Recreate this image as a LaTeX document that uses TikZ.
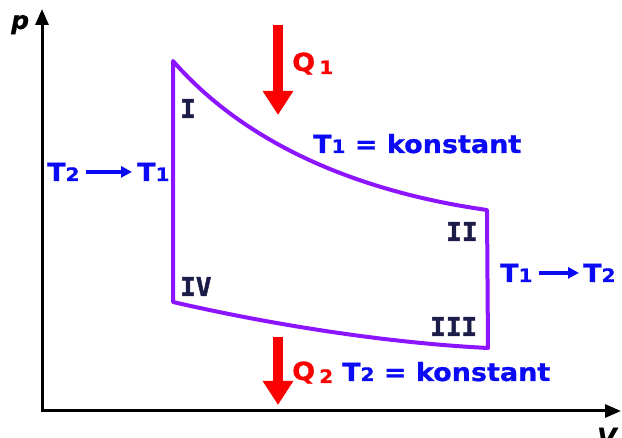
\documentclass[tikz,border=0pt]{standalone}
\usepackage{fontspec}
\setmainfont{DejaVu Sans}
\newfontfamily\lblfont[FakeStretch=1.08,FakeBold=0.8]{DejaVu Sans Bold}
\newfontfamily\romfont[FakeBold=1.6]{DejaVu Sans Mono Bold}
\newfontfamily\axfont[FakeBold=0.6]{DejaVu Sans Bold Oblique}
\usetikzlibrary{arrows.meta}
\definecolor{cyc}{RGB}{140,20,255}
\definecolor{tblue}{RGB}{10,10,245}
\definecolor{qred}{RGB}{250,0,0}
\definecolor{navy}{RGB}{28,28,72}
\newcommand\lbl{\lblfont\fontsize{25}{26}\selectfont}
\newcommand\sbs[1]{{\fontsize{18.5}{18}\selectfont #1}}
\begin{document}
\begin{tikzpicture}[x=1pt,y=-1pt,
  txt/.style={inner sep=0pt, anchor=base west, font=\lbl},
  bluetxt/.style={txt, text=tblue},
  redtxt/.style={txt, text=qred},
  romtxt/.style={inner sep=0pt, anchor=base west, text=navy, font=\romfont\fontsize{26}{26}\selectfont},
  axtxt/.style={inner sep=0pt, anchor=base west, font=\axfont\fontsize{25}{26}\selectfont},
  axis/.style={line width=3pt, {Triangle[width=13pt,length=16pt]}-{Triangle[width=13pt,length=16pt]}},
  cycle line/.style={line width=4pt, draw=cyc, line join=round},
  qarrow/.style={line width=10pt, draw=qred, -{Triangle[width=29pt,length=24pt]}},
  tarrow/.style={line width=4pt, draw=tblue, -{Triangle[width=11pt,length=11pt]}}]
\useasboundingbox (0,0) rectangle (622,438);
% axes
\coordinate (ytip) at (42,9);
\coordinate (orig) at (42,411);
\coordinate (xtip) at (621,411);
\draw[axis] (ytip) -- (orig) -- (xtip);
\node[axtxt] (plab) at (11,29) {p};
\node[axtxt] (vlab) at (597,446) {V};
% cycle corners
\coordinate (c1) at (173,61);
\coordinate (c2) at (487,210);
\coordinate (c3) at (488,348);
\coordinate (c4) at (173,302);
\draw[cycle line] (c1) .. controls (250,149) and (367,193) .. (c2)
  -- (c3) .. controls (388,343) and (273,325) .. (c4) -- cycle;
% roman numerals
\node[romtxt] (rI) at (180,118) {I};
\node[romtxt] (rII) at (446,241) {II};
\node[romtxt] (rIII) at (430,336) {III};
\node[romtxt] (rIV) at (180,296) {IV};
% heat arrows
\coordinate (q1s) at (278,25);
\coordinate (q1e) at (278,115);
\draw[qarrow] (q1s) -- (q1e);
\coordinate (q2s) at (278,337);
\coordinate (q2e) at (278,405);
\draw[qarrow] (q2s) -- (q2e);
\node[redtxt] (q1) at (292,71) {Q\,\raisebox{-3pt}{\sbs{1}}};
\node[redtxt] (q2) at (292,380) {Q\,\raisebox{-3pt}{\sbs{2}}};
% isotherm labels
\node[bluetxt] (iso1) at (313,153) {T\sbs{1} = konstant};
\node[bluetxt] (iso2) at (342,381) {T\sbs{2} = konstant};
% temperature changes
\node[bluetxt] (lt2) at (47,181) {T\sbs{2}};
\node[bluetxt] (lt1) at (137,181) {T\sbs{1}};
\draw[tarrow] ([xshift=6pt]lt2.east) -- ([xshift=-5pt]lt1.west);
\node[bluetxt] (rt1) at (500,282) {T\sbs{1}};
\node[bluetxt] (rt2) at (583,282) {T\sbs{2}};
\draw[tarrow] ([xshift=6pt]rt1.east) -- ([xshift=-4pt]rt2.west);
\end{tikzpicture}
\end{document}
